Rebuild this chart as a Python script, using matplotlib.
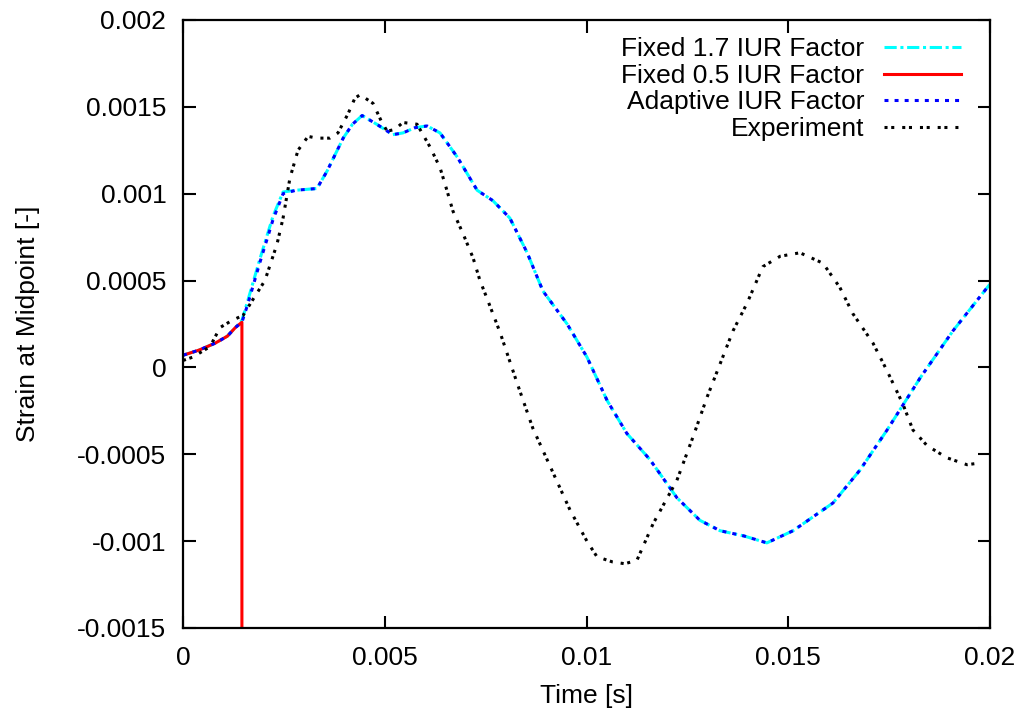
import matplotlib
matplotlib.use("Agg")
import matplotlib.pyplot as plt

# ---- data -------------------------------------------------------------
# Simulation, fixed 1.7 IUR factor
t_fixed17 = [0, 0.0004, 0.0008, 0.0011, 0.0013, 0.00146, 0.0016, 0.0019, 0.00223,
             0.00248, 0.0028, 0.00332, 0.00357, 0.00397, 0.0042, 0.00444, 0.0048,
             0.0052, 0.00545, 0.00575, 0.00605, 0.00637, 0.0068, 0.00729, 0.00768,
             0.0081, 0.00853, 0.00892, 0.00952, 0.01001, 0.01051, 0.011, 0.01157,
             0.01224, 0.01281, 0.01331, 0.0139, 0.01447, 0.01512, 0.01611, 0.01678,
             0.01745, 0.01827, 0.01908, 0.02]
s_fixed17 = [0.00007, 0.0001, 0.00014, 0.00018, 0.00023, 0.00027, 0.00038, 0.00062, 0.00087,
             0.00101, 0.00102, 0.00103, 0.00113, 0.00132, 0.0014, 0.00145, 0.0014,
             0.00134, 0.00135, 0.00138, 0.00139, 0.00135, 0.00121, 0.00102, 0.00096,
             0.00086, 0.00066, 0.00044, 0.00025, 0.00006, -0.00019, -0.00038, -0.00053,
             -0.00075, -0.00088, -0.00094, -0.00097, -0.00101, -0.00094, -0.00078, -0.00059,
             -0.00036, -0.00006, 0.00021, 0.00048]

# Simulation, fixed 0.5 IUR factor (diverges shortly after start)
t_fixed05 = [0, 0.0004, 0.0008, 0.0011, 0.0013, 0.00146, 0.00146]
s_fixed05 = [0.00007, 0.0001, 0.00014, 0.00018, 0.00023, 0.00026, -0.002]

# Simulation, adaptive IUR factor
t_adaptive = [0, 0.0004, 0.0008, 0.0011, 0.0013, 0.00146, 0.0016, 0.0019, 0.00223,
              0.00248, 0.0028, 0.00332, 0.00357, 0.00397, 0.0042, 0.00444, 0.0048,
              0.0052, 0.00545, 0.00575, 0.00605, 0.00637, 0.0068, 0.00729, 0.00768,
              0.0081, 0.00853, 0.00892, 0.00952, 0.01001, 0.01051, 0.011, 0.01157,
              0.01224, 0.01281, 0.01331, 0.0139, 0.01447, 0.01512, 0.01611, 0.01678,
              0.01745, 0.01827, 0.01908, 0.02]
s_adaptive = [0.00007, 0.0001, 0.00014, 0.00018, 0.00023, 0.00026, 0.00036, 0.0006, 0.00085,
              0.001, 0.00102, 0.00103, 0.00113, 0.00132, 0.0014, 0.00145, 0.0014,
              0.00134, 0.00135, 0.00138, 0.00139, 0.00135, 0.00121, 0.00102, 0.00096,
              0.00086, 0.00066, 0.00044, 0.00025, 0.00006, -0.00019, -0.00038, -0.00053,
              -0.00075, -0.00088, -0.00094, -0.00097, -0.00101, -0.00094, -0.00078, -0.00059,
              -0.00036, -0.00006, 0.00021, 0.00048]

# Measured strain
t_exp = [0, 0.00025, 0.00067, 0.00092, 0.00121, 0.00149, 0.00173, 0.00203, 0.00233,
         0.00248, 0.00265, 0.00285, 0.0031, 0.00332, 0.00364, 0.00384, 0.00409,
         0.00426, 0.00439, 0.00471, 0.00493, 0.00506, 0.00525, 0.00545, 0.0058,
         0.00612, 0.00637, 0.00654, 0.00669, 0.00694, 0.00719, 0.00736, 0.00753,
         0.00786, 0.00828, 0.00867, 0.0091, 0.00959, 0.01001, 0.01026, 0.01065,
         0.01095, 0.01125, 0.01165, 0.01224, 0.01264, 0.01299, 0.01331, 0.01363,
         0.01398, 0.01437, 0.0148, 0.01529, 0.01586, 0.01628, 0.0166, 0.0171,
         0.01745, 0.01784, 0.01809, 0.01844, 0.01893, 0.01943, 0.01975]
s_exp = [0.00004, 0.00006, 0.00012, 0.00023, 0.00027, 0.0003, 0.00039, 0.0005, 0.00071,
         0.00086, 0.00109, 0.00125, 0.00133, 0.00132, 0.00132, 0.00135, 0.00146,
         0.00155, 0.00157, 0.00152, 0.00141, 0.00136, 0.00137, 0.00141, 0.0014,
         0.00127, 0.00115, 0.00102, 0.0009, 0.00077, 0.00063, 0.0005, 0.0004,
         0.0002, -0.00009, -0.00035, -0.00057, -0.00082, -0.001, -0.00109, -0.00112,
         -0.00113, -0.00111, -0.0009, -0.00065, -0.0004, -0.00017, 0.00002, 0.00021,
         0.00037, 0.00058, 0.00064, 0.00066, 0.0006, 0.00046, 0.00031, 0.00014,
         -0.00002, -0.00021, -0.00036, -0.00045, -0.00052, -0.00056, -0.00055]

x_ticks = [0, 0.005, 0.01, 0.015, 0.02]
x_tick_labels = ["0", "0.005", "0.01", "0.015", "0.02"]
y_ticks = [-0.0015, -0.001, -0.0005, 0, 0.0005, 0.001, 0.0015, 0.002]
y_tick_labels = ["-0.0015", "-0.001", "-0.0005", "0", "0.0005", "0.001", "0.0015", "0.002"]

# ---- figure -----------------------------------------------------------
plt.rcParams["font.family"] = ["Liberation Sans", "DejaVu Sans"]
fs = 19

fig = plt.figure(figsize=(10.26, 7.15), dpi=100)
ax = fig.add_axes([183 / 1026, 1 - 628 / 715, 807 / 1026, 608 / 715])

lw = 2.2
ax.plot(t_fixed17, s_fixed17, color="#00ffff", lw=lw,
        linestyle=(0, (4, 1.2, 1, 1.2)), label="Fixed 1.7 IUR Factor")
ax.plot(t_fixed05, s_fixed05, color="#ff0000", lw=lw,
        linestyle="-", label="Fixed 0.5 IUR Factor")
ax.plot(t_adaptive, s_adaptive, color="#0000ff", lw=lw,
        linestyle=(0, (1.3, 2.0)), label="Adaptive IUR Factor")
ax.plot(t_exp, s_exp, color="black", lw=lw,
        linestyle=(0, (1, 1.2, 1, 2.6)), label="Experiment")

ax.set_xlim(0, 0.02)
ax.set_ylim(-0.0015, 0.002)
ax.set_xticks(x_ticks)
ax.set_xticklabels(x_tick_labels)
ax.set_yticks(y_ticks)
ax.set_yticklabels(y_tick_labels)

ax.tick_params(direction="in", length=9, width=1.5, top=True, right=True,
               labelsize=fs)
ax.tick_params(axis="y", pad=12)
ax.tick_params(axis="x", pad=13)
for sp in ax.spines.values():
    sp.set_linewidth(1.6)

ax.set_xlabel("Time [s]", fontsize=fs, labelpad=10)
ax.set_ylabel("Strain at Midpoint [-]", fontsize=fs, labelpad=27)

leg = ax.legend(loc="upper right", bbox_to_anchor=(0.985, 1.0), frameon=False,
                markerfirst=False, fontsize=fs, handlelength=2.9,
                handletextpad=0.75, labelspacing=0.1, borderaxespad=0.25)

fig.savefig("out.png", dpi=100)
